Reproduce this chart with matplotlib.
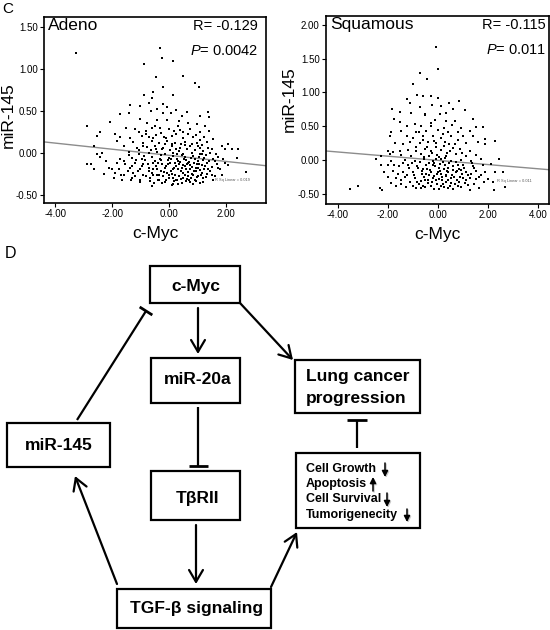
import matplotlib
matplotlib.use('Agg')
import matplotlib.pyplot as plt
import numpy as np
from matplotlib.patches import Rectangle, FancyArrowPatch

plt.rcParams['font.family'] = ['Liberation Sans', 'DejaVu Sans']
plt.rcParams['axes.unicode_minus'] = False
plt.rcParams['mathtext.fontset'] = 'custom'
plt.rcParams['mathtext.rm'] = 'Liberation Sans'
plt.rcParams['mathtext.it'] = 'Liberation Sans:italic'

# ---------------- data: Adeno panel (c-Myc, miR-145) ----------------
adeno_points = [
    (-3.26, 1.19), (-0.32, 1.25), (-0.26, 1.13), (-0.88, 1.06), (0.15, 1.09), (0.47, 0.91),
    (-0.46, 0.90), (0.91, 0.83), (1.06, 0.79), (-0.22, 0.78), (-0.57, 0.72), (-0.88, 0.69),
    (0.13, 0.69), (-0.61, 0.65), (-0.72, 0.59), (-1.37, 0.57), (-1.02, 0.56), (-0.22, 0.58),
    (-0.06, 0.54), (-0.43, 0.52), (0.23, 0.51), (0.62, 0.49), (1.38, 0.49), (-0.64, 0.50),
    (-1.72, 0.46), (-1.42, 0.48), (-0.20, 0.47), (0.07, 0.47), (0.44, 0.44), (1.08, 0.44),
    (1.41, 0.43), (-2.88, 0.32), (-2.07, 0.37), (-1.02, 0.40), (-0.78, 0.36), (-0.43, 0.39),
    (-0.08, 0.39), (0.33, 0.38), (0.68, 0.36), (0.99, 0.34), (1.26, 0.32), (-2.42, 0.25),
    (-1.89, 0.22), (-1.51, 0.30), (-1.19, 0.28), (-1.07, 0.25), (-0.82, 0.26), (-0.61, 0.29),
    (-0.32, 0.30), (-0.02, 0.28), (0.18, 0.26), (0.39, 0.27), (0.74, 0.28), (1.09, 0.25),
    (1.41, 0.26), (-2.53, 0.20), (-1.72, 0.19), (-1.37, 0.18), (-0.96, 0.20), (-0.72, 0.19),
    (-0.46, 0.21), (-0.18, 0.19), (0.09, 0.20), (0.48, 0.18), (0.83, 0.19), (1.23, 0.19),
    (1.55, 0.16), (-1.83, 0.14), (-1.25, 0.13), (-0.90, 0.12), (-0.61, 0.14), (-0.34, 0.12),
    (-0.08, 0.14), (0.21, 0.12), (0.56, 0.13), (0.97, 0.12), (1.32, 0.13), (1.84, 0.08),
    (2.08, 0.10), (-2.65, 0.08), (-1.60, 0.08), (-1.13, 0.06), (-0.78, 0.07), (-0.49, 0.08),
    (-0.20, 0.06), (0.09, 0.08), (0.39, 0.06), (0.74, 0.08), (1.09, 0.06), (1.49, 0.05),
    (1.96, 0.05), (2.19, 0.04), (2.43, 0.04), (-2.53, -0.01), (-2.36, 0.00), (-1.42, 0.01),
    (-1.07, -0.01), (-0.72, 0.00), (-0.43, 0.01), (-0.14, -0.01), (0.15, 0.00), (0.48, -0.01),
    (0.79, 0.00), (1.14, -0.01), (1.44, 0.00), (1.65, -0.02), (-2.42, -0.05), (-1.72, -0.07),
    (-1.31, -0.06), (-0.96, -0.07), (-0.61, -0.05), (-0.32, -0.07), (-0.02, -0.06), (0.27, -0.07),
    (0.56, -0.05), (0.91, -0.07), (1.23, -0.06), (1.55, -0.07), (1.88, -0.07), (2.37, -0.06),
    (-2.88, -0.13), (-2.74, -0.14), (-1.83, -0.12), (-1.54, -0.13), (-1.19, -0.12), (-0.90, -0.14),
    (-0.55, -0.12), (-0.26, -0.14), (0.04, -0.12), (0.33, -0.14), (0.62, -0.13), (0.97, -0.14),
    (1.32, -0.12), (1.67, -0.14), (2.08, -0.15), (-2.65, -0.20), (-2.12, -0.18), (-1.77, -0.19),
    (-1.37, -0.18), (-1.02, -0.20), (-0.72, -0.18), (-0.43, -0.20), (-0.14, -0.18), (0.15, -0.20),
    (0.44, -0.18), (0.74, -0.20), (1.03, -0.18), (1.38, -0.20), (1.73, -0.18), (2.70, -0.23),
    (-2.30, -0.25), (-1.89, -0.24), (-1.58, -0.26), (-1.25, -0.24), (-0.92, -0.26), (-0.61, -0.24),
    (-0.34, -0.26), (-0.08, -0.24), (0.21, -0.26), (0.50, -0.24), (0.83, -0.26), (1.14, -0.24),
    (1.49, -0.26), (1.84, -0.26), (-1.95, -0.30), (-1.66, -0.32), (-1.31, -0.30), (-1.02, -0.32),
    (-0.67, -0.30), (-0.37, -0.32), (-0.02, -0.30), (0.27, -0.32), (0.62, -0.31), (0.91, -0.32),
    (1.20, -0.30), (1.55, -0.32), (-1.02, -0.35), (-0.53, -0.36), (-0.14, -0.35), (0.15, -0.37),
    (0.44, -0.36), (0.74, -0.35), (1.09, -0.36), (-0.61, -0.40), (0.09, -0.39),
    (-0.85, -0.09), (-0.50, -0.10), (-0.28, -0.03), (-0.05, -0.09), (0.12, -0.04), (0.30, -0.10),
    (0.45, -0.03), (0.58, -0.09), (0.72, -0.15), (0.85, -0.04), (1.00, -0.10), (1.15, -0.15),
    (1.28, -0.03), (-0.95, -0.16), (-0.70, -0.22), (-0.47, -0.16), (-0.30, -0.22), (-0.10, -0.16),
    (0.05, -0.22), (0.25, -0.16), (0.40, -0.22), (0.55, -0.16), (0.68, -0.23), (0.80, -0.17),
    (0.95, -0.22), (1.10, -0.21), (1.25, -0.16), (1.45, -0.22), (-0.80, -0.28), (-0.55, -0.27),
    (-0.22, -0.28), (0.00, -0.27), (0.12, -0.30), (0.35, -0.28), (0.50, -0.30), (0.65, -0.28),
    (0.78, -0.30), (0.88, -0.22), (1.02, -0.28), (1.30, -0.29), (-1.15, -0.09), (-1.30, -0.16),
    (-1.45, -0.22), (-1.60, -0.10), (-1.20, -0.28), (-0.40, -0.33), (0.18, -0.34), (0.58, -0.34),
    (0.95, -0.34), (1.20, -0.35), (-0.65, 0.03), (-0.25, 0.04), (0.02, 0.03), (0.35, 0.02),
    (0.62, 0.04), (0.90, 0.03), (1.20, 0.02), (-0.38, -0.12), (0.20, -0.12), (0.70, -0.11),
    (1.05, -0.05), (1.60, -0.10), (1.78, -0.20), (1.95, -0.12), (-1.05, 0.03), (-1.40, -0.03),
    (0.10, 0.10), (0.40, 0.11), (-0.15, 0.10), (0.80, 0.10), (1.10, 0.15), (-0.55, 0.17),
    (0.25, 0.22), (0.65, 0.22), (-0.28, 0.24), (1.15, 0.09),
    (-1.35, -0.33), (-1.10, -0.22), (-0.88, -0.04), (-0.75, -0.13), (-0.58, -0.19), (-0.42, -0.26),
    (-0.30, -0.09), (-0.18, -0.23), (-0.12, -0.32), (-0.03, -0.14), (0.07, -0.07), (0.10, -0.25),
    (0.18, -0.18), (0.23, -0.33), (0.28, -0.02), (0.32, -0.20), (0.37, -0.11), (0.42, -0.31),
    (0.47, -0.15), (0.52, -0.07), (0.55, -0.27), (0.60, -0.20), (0.66, -0.12), (0.70, -0.33),
    (0.76, -0.06), (0.82, -0.25), (0.87, -0.12), (0.93, -0.18), (0.98, -0.29), (1.04, -0.13),
    (1.08, -0.02), (1.13, -0.27), (1.18, -0.09), (1.22, -0.19), (1.34, -0.25), (1.40, -0.10),
    (1.52, -0.17), (1.62, -0.28), (1.70, -0.05), (-0.66, -0.34), (-0.25, -0.36), (0.30, -0.37),
    (0.85, -0.37), (-1.70, -0.27), (-2.00, -0.20), (-2.20, -0.10), (-0.92, 0.08), (-0.45, 0.05),
    (0.25, 0.05), (0.55, 0.09), (1.00, 0.08), (1.35, 0.06), (-0.10, 0.17), (0.50, 0.25),
    (-0.80, 0.22), (0.95, 0.21), (0.30, 0.32), (-0.50, 0.32),
]
adeno_fit = (-0.031, -0.0365)      # intercept, slope
adeno_stats = ("Adeno", "-0.129", "0.0042", "0.019")

# ---------------- data: Squamous panel ----------------
squamous_points = [
    (-0.09, 1.67), (0.00, 1.34), (-0.73, 1.29), (-0.43, 1.20), (-1.00, 1.12), (-0.83, 0.96),
    (-0.60, 0.95), (-0.27, 0.94), (0.00, 0.92), (-1.23, 0.91), (0.43, 0.85), (0.84, 0.87),
    (-0.24, 0.81), (0.13, 0.80), (-0.73, 0.79), (-1.13, 0.85), (0.60, 0.75), (1.07, 0.74),
    (-1.83, 0.76), (-1.53, 0.71), (-1.07, 0.70), (-0.53, 0.68), (0.07, 0.68), (0.33, 0.70),
    (-0.51, 0.66), (-1.77, 0.61), (1.40, 0.60), (-1.53, 0.56), (-0.93, 0.54), (-0.13, 0.59),
    (0.67, 0.58), (-1.23, 0.51), (-0.67, 0.51), (-0.29, 0.50), (0.24, 0.48), (0.93, 0.48),
    (1.53, 0.49), (1.80, 0.49), (-1.89, 0.42), (-1.47, 0.43), (-0.77, 0.42), (-0.47, 0.43),
    (0.00, 0.45), (0.40, 0.42), (0.80, 0.41), (1.27, 0.43), (-1.93, 0.35), (-1.23, 0.36),
    (-1.00, 0.33), (-0.60, 0.35), (-0.20, 0.36), (0.13, 0.33), (0.53, 0.36), (1.00, 0.35),
    (1.40, 0.36), (1.89, 0.31), (2.27, 0.28), (-1.73, 0.25), (-1.40, 0.24), (-1.13, 0.26),
    (-0.73, 0.25), (-0.40, 0.27), (-0.07, 0.25), (0.27, 0.26), (0.67, 0.24), (1.13, 0.25),
    (1.60, 0.26), (1.89, 0.24), (-2.00, 0.14), (-1.80, 0.12), (-1.53, 0.14), (-1.20, 0.15),
    (-0.87, 0.14), (-0.53, 0.16), (-0.27, 0.14), (0.13, 0.15), (0.47, 0.14), (0.87, 0.16),
    (1.27, 0.14), (-2.27, 0.06), (-1.93, 0.09), (-1.47, 0.07), (-1.07, 0.06), (-0.67, 0.09),
    (-0.37, 0.06), (-0.03, 0.07), (0.33, 0.06), (0.73, 0.09), (1.13, 0.06), (1.53, 0.07),
    (-2.47, 0.02), (-1.87, -0.01), (-1.33, 0.00), (-0.93, -0.01), (-0.56, 0.01), (-0.20, -0.01),
    (0.13, 0.01), (0.51, -0.01), (0.91, 0.00), (1.33, -0.01), (1.73, 0.01), (2.43, 0.02),
    (-2.29, -0.08), (-2.00, -0.07), (-1.57, -0.09), (-1.20, -0.07), (-0.83, -0.09), (-0.47, -0.07),
    (-0.11, -0.09), (0.27, -0.07), (0.60, -0.09), (1.00, -0.07), (1.40, -0.09), (1.80, -0.08),
    (2.11, -0.06), (-2.16, -0.18), (-1.80, -0.16), (-1.40, -0.17), (-1.00, -0.18), (-0.64, -0.16),
    (-0.29, -0.18), (0.07, -0.16), (0.40, -0.18), (0.77, -0.16), (1.13, -0.18), (1.53, -0.16),
    (1.87, -0.18), (2.27, -0.17), (2.60, -0.18), (-2.00, -0.25), (-1.67, -0.27), (-1.31, -0.25),
    (-0.93, -0.27), (-0.56, -0.25), (-0.20, -0.27), (0.16, -0.25), (0.51, -0.27), (0.87, -0.25),
    (1.27, -0.27), (1.63, -0.25), (2.00, -0.28), (-1.87, -0.34), (-1.49, -0.35), (-1.13, -0.33),
    (-0.77, -0.35), (-0.40, -0.34), (-0.03, -0.35), (0.33, -0.33), (0.67, -0.35), (1.07, -0.34),
    (1.44, -0.35), (1.84, -0.33), (2.20, -0.32), (-3.53, -0.43), (-3.20, -0.38), (-2.33, -0.42),
    (-2.24, -0.44), (-1.67, -0.39), (-1.27, -0.40), (-0.87, -0.42), (-0.51, -0.40), (-0.16, -0.43),
    (0.24, -0.40), (0.60, -0.43), (0.93, -0.40), (1.27, -0.44), (1.63, -0.42), (2.24, -0.44),
    (2.67, -0.40),
    (-0.80, -0.12), (-0.45, -0.13), (-0.15, -0.04), (0.05, -0.12), (0.20, -0.03), (0.40, -0.12),
    (0.70, -0.03), (0.85, -0.13), (-0.65, -0.21), (-0.35, -0.22), (-0.05, -0.21), (0.15, -0.29),
    (0.30, -0.22), (0.55, -0.22), (0.75, -0.30), (0.95, -0.21), (-0.70, -0.31), (-0.40, -0.30),
    (-0.10, -0.30), (0.40, -0.30), (1.20, -0.22), (1.45, -0.12), (-1.15, -0.12), (-1.25, -0.22),
    (-1.50, -0.30), (-0.25, 0.10), (0.05, 0.04), (0.35, 0.11), (-0.55, 0.04), (0.60, 0.18),
    (-0.10, 0.19), (0.95, 0.10), (-0.90, 0.20), (0.25, 0.21), (-0.30, -0.38), (0.10, -0.38),
    (0.48, -0.38), (0.80, -0.38), (-0.60, -0.38), (1.10, -0.30),
    (-1.05, -0.05), (-0.95, -0.22), (-0.85, -0.32), (-0.72, -0.03), (-0.62, -0.13), (-0.52, -0.29),
    (-0.48, -0.20), (-0.38, -0.04), (-0.33, -0.14), (-0.25, -0.33), (-0.22, -0.08), (-0.15, -0.24),
    (-0.08, 0.02), (-0.02, -0.18), (0.03, -0.28), (0.08, -0.06), (0.12, -0.20), (0.18, -0.35),
    (0.22, -0.13), (0.28, 0.03), (0.33, -0.24), (0.37, -0.16), (0.45, -0.05), (0.50, -0.34),
    (0.58, -0.14), (0.63, -0.25), (0.70, -0.18), (0.78, -0.08), (0.83, -0.33), (0.90, -0.15),
    (1.00, -0.26), (1.05, -0.12), (1.18, -0.37), (1.30, -0.20), (1.35, -0.05), (1.50, -0.28),
    (1.70, -0.22), (-1.40, -0.05), (-1.60, -0.20), (-1.75, -0.08), (-0.45, 0.20), (-0.15, 0.28),
    (0.20, 0.38), (0.45, 0.24), (-0.60, 0.30), (0.80, 0.30), (-0.30, 0.55), (0.30, 0.58),
    (-0.90, 0.42), (0.55, 0.52), (-0.70, -0.42), (0.05, -0.43), (0.40, -0.42), (-1.00, -0.38),
]
squamous_fit = (-0.005, -0.031)
squamous_stats = ("Squamous", "-0.115", "0.011", "0.011")

x_ticks_adeno = [-4, -2, 0, 2]
y_ticks_adeno = [-0.5, 0.0, 0.5, 1.0, 1.5]
x_ticks_squamous = [-4, -2, 0, 2, 4]
y_ticks_squamous = [-0.5, 0.0, 0.5, 1.0, 1.5, 2.0]

# ---------------- figure ----------------
W, H = 550, 630
fig = plt.figure(figsize=(W / 100, H / 100), dpi=100)

def px_axes(x0, y0, x1, y1):
    return [x0 / W, 1 - y1 / H, (x1 - x0) / W, (y1 - y0) / H]

def scatter_panel(rect, pts, fit, stats, xlim, ylim, xt, yt, ylab_pos, rsq_pos, rtext_x):
    ax = fig.add_axes(rect)
    pts = np.array(pts)
    ax.scatter(pts[:, 0], pts[:, 1], s=3.0, marker='s', color='black', linewidths=0, zorder=3)
    xs = np.array(xlim)
    ax.plot(xs, fit[0] + fit[1] * xs, color='#8c8c8c', lw=1.0, zorder=2)
    ax.set_xlim(*xlim)
    ax.set_ylim(*ylim)
    ax.set_xticks(xt)
    ax.set_yticks(yt)
    ax.set_xticklabels(['%.2f' % v for v in xt])
    ax.set_yticklabels(['%.2f' % v for v in yt])
    ax.tick_params(direction='out', length=3, width=0.8, labelsize=7, pad=1.5, colors='black')
    for s in ax.spines.values():
        s.set_linewidth(1.2)
        s.set_color('black')
    ax.set_ylabel('miR-145', fontsize=12.5)
    ax.yaxis.set_label_coords(ylab_pos[0], ylab_pos[1])
    ax.set_xlabel('c-Myc', fontsize=12.5)
    ax.xaxis.set_label_coords(0.5, -0.125)
    ax.text(0.018, 0.995, stats[0], transform=ax.transAxes, ha='left', va='top', fontsize=12.5)
    ax.text(rtext_x, 0.99, 'R= ' + stats[1], transform=ax.transAxes, ha='right', va='top', fontsize=10.5)
    ax.text(rtext_x, 0.855, r'$\mathit{P}$= ' + stats[2], transform=ax.transAxes, ha='right', va='top', fontsize=10.5)
    ax.text(rsq_pos[0], rsq_pos[1], 'R Sq Linear = ' + stats[3], fontsize=2.8, color='#555555',
            ha='left', va='center')
    return ax

scatter_panel(px_axes(44, 17, 266, 203), adeno_points, adeno_fit, adeno_stats,
              (-4.39, 3.40), (-0.60, 1.62), x_ticks_adeno, y_ticks_adeno,
              (-0.125, 0.47), (1.62, -0.33), 0.965)
scatter_panel(px_axes(326, 16, 549, 204), squamous_points, squamous_fit, squamous_stats,
              (-4.48, 4.44), (-0.65, 2.13), x_ticks_squamous, y_ticks_squamous,
              (-0.13, 0.56), (2.36, -0.31), 0.987)

fig.text(2 / W, 1 - 2 / H, 'C', fontsize=11, ha='left', va='top')
fig.text(5 / W, 1 - 246 / H, 'D', fontsize=11.5, ha='left', va='top')

# ---------------- diagram (pixel coordinate overlay) ----------------
ad = fig.add_axes([0, 0, 1, 1])
ad.set_xlim(0, W)
ad.set_ylim(H, 0)
ad.axis('off')
ad.patch.set_visible(False)

boxes = {
    'cmyc':   (150, 266, 240, 303),
    'mir20a': (151, 358, 240, 403),
    'tbr':    (151, 471, 240, 520),
    'tgf':    (117, 589, 271, 628),
    'mir145': (7, 423, 110, 467),
    'lung':   (295, 360, 420, 413),
    'cell':   (296, 453, 420, 528),
}
for (x0, y0, x1, y1) in boxes.values():
    ad.add_patch(Rectangle((x0, y0), x1 - x0, y1 - y0, fill=False, lw=1.6, ec='black'))

bold = dict(fontsize=12.5, fontweight='bold', ha='center', va='center')
ad.text(196, 286, 'c-Myc', **bold)
ad.text(198, 380, 'miR-20a', **bold)
ad.text(197, 498, 'TβRII', **bold)
ad.text(197, 608, 'TGF-β signaling', **bold)
ad.text(59, 446, 'miR-145', **bold)
ad.text(306, 377, 'Lung cancer', fontsize=12.5, fontweight='bold', ha='left', va='center')
ad.text(306, 398, 'progression', fontsize=12.5, fontweight='bold', ha='left', va='center')

cell_lines = ['Cell Growth', 'Apoptosis', 'Cell Survival', 'Tumorigenecity']
cell_y = [469, 484, 499, 515]
for t, y in zip(cell_lines, cell_y):
    ad.text(306, y, t, fontsize=9, fontweight='bold', ha='left', va='center')
small_arrows = [(385, 463, 477), (373, 491, 477), (387, 493, 507), (407, 509, 522)]
for (x, ya, yb) in small_arrows:
    ad.annotate('', xy=(x + 1, yb + 1), xytext=(x + 1, ya + 1),
                arrowprops=dict(arrowstyle='-|>,head_length=0.35,head_width=0.18', lw=1.1,
                                color='#c8c8c8', shrinkA=0, shrinkB=0))
    ad.annotate('', xy=(x, yb), xytext=(x, ya),
                arrowprops=dict(arrowstyle='-|>,head_length=0.35,head_width=0.18', lw=1.1,
                                color='black', shrinkA=0, shrinkB=0))

def arrow(p0, p1):
    ad.add_patch(FancyArrowPatch(p0, p1, arrowstyle='->,head_length=0.85,head_width=0.5',
                                 mutation_scale=10, lw=1.6, color='black',
                                 shrinkA=0, shrinkB=0))

def tbar(p0, p1, half=9.5):
    p0 = np.array(p0, float)
    p1 = np.array(p1, float)
    ad.plot([p0[0], p1[0]], [p0[1], p1[1]], color='black', lw=1.6, solid_capstyle='butt')
    d = (p1 - p0) / np.linalg.norm(p1 - p0)
    n = np.array([-d[1], d[0]])
    a = p1 + n * half
    b = p1 - n * half
    ad.plot([a[0], b[0]], [a[1], b[1]], color='black', lw=2.0, solid_capstyle='butt')

arrow((198, 308), (198, 354))
tbar((198, 407), (198, 466))
arrow((196, 525), (196, 584))
arrow((117, 584), (75, 476))
tbar((77, 420), (146, 311), half=7.5)
arrow((240, 303), (293, 360))
tbar((357, 448), (357, 420), half=10)
arrow((271, 587), (297, 532))

fig.savefig('out.png', dpi=100)
